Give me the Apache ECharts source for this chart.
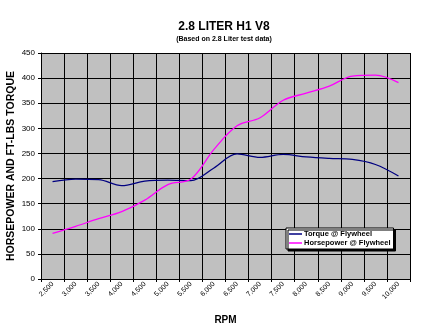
<!DOCTYPE html>
<html>
<head>
<meta charset="utf-8">
<script src="https://cdn.jsdelivr.net/npm/echarts@6/dist/echarts.min.js"></script>
<style>
html,body{margin:0;padding:0;background:#fff;}
#chart{width:448px;height:330px;}
</style>
</head>
<body>
<div id="chart"></div>
<script>
const rpmLabels = ['2,500','3,000','3,500','4,000','4,500','5,000','5,500','6,000','6,500','7,000','7,500','8,000','8,500','9,000','9,500','10,000'];
const torque = [194, 199, 198, 186, 195, 197, 196, 221, 249, 242, 248, 243, 240, 238, 228, 205];
const horsepower = [91, 105, 120, 134, 157, 188, 199, 258, 305, 321, 356, 370, 384, 404, 406, 391];
const yTicks = {min: 0, max: 450, interval: 50};

const FONT = '"Liberation Sans", Arial, sans-serif';
const chart = echarts.init(document.getElementById('chart'), null, {renderer: 'canvas'});
chart.setOption({
  animation: false,
  backgroundColor: '#ffffff',
  textStyle: {fontFamily: FONT, color: '#000'},
  title: {
    text: '2.8 LITER H1 V8',
    subtext: '(Based on 2.8 Liter test data)',
    left: 'center',
    top: 16,
    itemGap: 3,
    textStyle: {fontFamily: FONT, fontSize: 12, fontWeight: 'bold', color: '#000'},
    subtextStyle: {fontFamily: FONT, fontSize: 7, fontWeight: 'bold', color: '#000'}
  },
  legend: {
    orient: 'vertical',
    left: 286,
    top: 228,
    padding: [2, 3, 2, 3],
    itemGap: 1,
    itemWidth: 13,
    itemHeight: 1.5,
    icon: 'rect',
    backgroundColor: '#ffffff',
    borderColor: '#000',
    borderWidth: 1,
    borderRadius: 0,
    shadowColor: '#000',
    shadowBlur: 0,
    shadowOffsetX: 2,
    shadowOffsetY: 2,
    textStyle: {fontFamily: FONT, fontSize: 7.5, fontWeight: 'bold', color: '#000', padding: [0,0,0,-3]},
    data: ['Torque @ Flywheel', 'Horsepower @ Flywheel']
  },
  grid: {left: 41, right: 38, top: 53, bottom: 51, show: true, backgroundColor: '#c0c0c0', borderWidth: 0, containLabel: false, outerBoundsMode: 'none'},
  xAxis: {
    type: 'category',
    data: rpmLabels,
    boundaryGap: true,
    name: 'RPM',
    nameLocation: 'middle',
    nameGap: 36,
    nameMoveOverlap: false,
    nameTextStyle: {fontFamily: FONT, fontSize: 10, fontWeight: 'bold', color: '#000'},
    axisLine: {lineStyle: {color: '#000', width: 1}},
    axisTick: {show: true, length: 3, lineStyle: {color: '#000'}},
    axisLabel: {rotate: 45, fontSize: 7, fontFamily: FONT, color: '#000', margin: 4, interval: 0},
    splitLine: {show: true, lineStyle: {color: '#000', width: 1}}
  },
  yAxis: {
    type: 'value',
    min: yTicks.min,
    max: yTicks.max,
    interval: yTicks.interval,
    name: 'HORSEPOWER AND FT-LBS TORQUE',
    nameLocation: 'middle',
    nameGap: 24,
    nameMoveOverlap: false,
    nameTextStyle: {fontFamily: FONT, fontSize: 10.5, fontWeight: 'bold', color: '#000'},
    axisLine: {show: true, lineStyle: {color: '#000', width: 1}},
    axisTick: {show: true, length: 3, lineStyle: {color: '#000'}},
    axisLabel: {fontSize: 8, fontFamily: FONT, color: '#000', margin: 6},
    splitLine: {show: true, lineStyle: {color: '#000', width: 1}}
  },
  series: [
    {
      name: 'Torque @ Flywheel',
      type: 'line',
      data: torque,
      smooth: 0.35,
      showSymbol: false,
      symbol: 'none',
      lineStyle: {color: '#000080', width: 1.3},
      itemStyle: {color: '#000080'}
    },
    {
      name: 'Horsepower @ Flywheel',
      type: 'line',
      data: horsepower,
      smooth: 0.35,
      showSymbol: false,
      symbol: 'none',
      lineStyle: {color: '#ff00ff', width: 1.3},
      itemStyle: {color: '#ff00ff'}
    }
  ]
});
</script>
</body>
</html>
